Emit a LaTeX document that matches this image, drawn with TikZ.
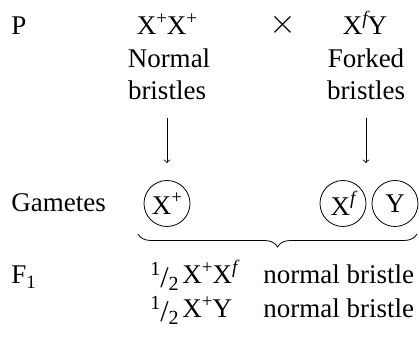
\documentclass[tikz,border=0pt]{standalone}
\usepackage{fontspec}
\setmainfont{Liberation Serif}
\usetikzlibrary{positioning}
\usetikzlibrary{decorations.pathreplacing}

\newcommand{\upsc}[1]{\raisebox{0.85ex}{\fontsize{9.5}{10}\selectfont #1}}
\newcommand{\halfof}{\raisebox{0.7ex}{\fontsize{10}{10}\selectfont 1}\raisebox{-0.25ex}{\fontsize{15}{15}\selectfont /}\raisebox{-0.55ex}{\fontsize{10}{10}\selectfont 2}}

\begin{document}
\begin{tikzpicture}[x=0.5pt, y=-0.5pt, every node/.style={inner sep=0pt, font=\fontsize{13.5}{16}\selectfont}, gamete/.style={circle, draw, minimum size=23pt}, lbl/.style={anchor=base west}, mid/.style={anchor=base}]
        % Fix the picture size
        \useasboundingbox (0,0) rectangle (419,341);

        % Draw the parents
        \node[lbl] (p) at (11,35) {P};
        \node[mid] (ppar) at (167,35) {X\upsc{+}X\upsc{+}};
        \node[mid, font=\fontsize{16}{16}\selectfont] (cross) at (283,34) {$\times$};
        \node[mid] (qpar) at (365,35) {X\upsc{\itshape f}Y};
        \node[mid] (pnorm) at (169,68) {Normal};
        \node[mid] (pbris) at (167,100) {bristles};
        \node[mid] (qfork) at (366,68) {Forked};
        \node[mid] (qbris) at (366,100) {bristles};

        % Draw the gametes
        \node[lbl] (gam) at (11,212) {Gametes};
        \node[gamete] (gp) at (167,203.5) {X\upsc{+}};
        \node[gamete] (gf) at (343,203.5) {X\upsc{\itshape f}};
        \node[gamete] (gy) at (395,203.5) {Y};

        \draw[->, shorten <=8.5pt, shorten >=8.5pt] (pbris.south) -- (gp.north);
        \draw[->, shorten <=8.5pt, shorten >=8.5pt] (qbris.south) -- (qbris.south |- gf.north);

        % Brace under the gametes
        \coordinate (bl) at (138,234);
        \coordinate (br) at (417,234);
        \draw[decorate, decoration={brace, mirror, amplitude=6.5pt}] (bl) -- (br);

        % Draw the offspring
        \node[lbl] (f) at (11,284) {F\textsubscript{1}};
        \node[lbl] (h1) at (150,284) {\halfof};
        \node[lbl] (k1) at (182,284) {X\upsc{+}X\upsc{\itshape f}};
        \node[lbl] (n1) at (263,284) {normal bristle};
        \node[lbl] (h2) at (150,318) {\halfof};
        \node[lbl] (k2) at (182,318) {X\upsc{+}Y};
        \node[lbl] (n2) at (263,318) {normal bristle};
      \end{tikzpicture}
\end{document}
